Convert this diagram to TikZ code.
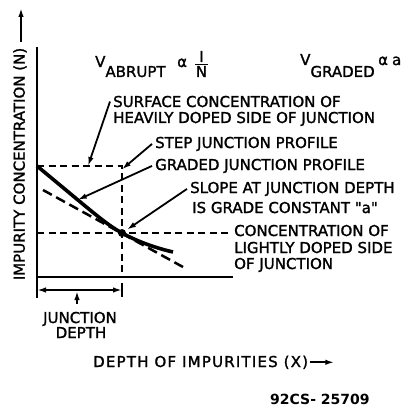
\documentclass[tikz,border=0pt]{standalone}
\usepackage{fontspec}
\setmainfont{DejaVu Sans}
\newfontfamily\lblfont{DejaVu Sans}[Ligatures=TeXOff, FakeBold=1.5]
\usetikzlibrary{arrows.meta,calc}
\begin{document}
\begin{tikzpicture}[x=1pt,y=-1pt,
 lbl/.style={inner sep=0pt, anchor=base west, font=\lblfont\fontsize{15}{18}\selectfont},
 axisline/.style={line width=2.2pt},
 guide/.style={line width=1.8pt, dash pattern=on 7pt off 4.5pt},
 tangent/.style={line width=2.5pt, dash pattern=on 10pt off 5pt},
 profile/.style={line width=3.6pt},
 pointer/.style={line width=1.8pt, -{Latex[length=9pt,width=5.5pt]}},
 dimline/.style={line width=1.8pt, {Latex[length=9pt,width=5.5pt]}-{Latex[length=9pt,width=5.5pt]}},
]
\path[fill=white, use as bounding box] (0,0) rectangle (419,406);

% key coordinates
\coordinate (top) at (37,47);
\coordinate (o) at (37,277);
\coordinate (xend) at (233,277);
\coordinate (surf) at (37,166);
\coordinate (stepc) at (122,166);
\coordinate (xj) at (122,277);
\coordinate (junc) at (122,233);
\coordinate (light) at (37,233);
\coordinate (lightend) at (232,233);

% axes
\draw[axisline] (top) -- (37,298);
\draw[axisline] (o) -- (xend);

% dashed guides
\draw[guide] (surf) -- (stepc) -- (xj);
\draw[guide] (light) -- (lightend);
\draw[tangent] ($(junc)+(-79,-43)$) -- ($(junc)+(61,34)$);

% profile
\draw[profile] (surf) .. controls (95,214) and (105,223.5) .. (junc)
  coordinate[pos=0.3] (gp);
\draw[profile] (junc) .. controls (140,243) and (160,249) .. (173,252);
\fill (junc) circle (4pt);

% top formulas
\node[lbl] (vab) at (95,67) {V\raisebox{-10pt}{ABRUPT}};
\node[lbl] (prop1) at (177,67) {α};
\node[lbl, anchor=base] (fracI) at (201.5,62) {I};
\node[lbl, anchor=base] (fracN) at (201.5,77) {N};
\draw[line width=1.6pt] (195,64.5) -- (208,64.5);
\node[lbl] (vgr) at (300,65) {V\raisebox{-12pt}{GRADED}};
\node[lbl] (prop2) at (378,65) {α\hspace{4pt}a};

% labels
\node[lbl] (surf1) at (113,107) {SURFACE CONCENTRATION OF};
\node[lbl] (surf2) at (113,123) {HEAVILY DOPED SIDE OF JUNCTION};
\node[lbl] (step) at (155,148) {STEP JUNCTION PROFILE};
\node[lbl] (graded) at (155,170) {GRADED JUNCTION PROFILE};
\node[lbl] (slope1) at (190,193) {SLOPE AT JUNCTION DEPTH};
\node[lbl] (slope2) at (192,213) {IS GRADE CONSTANT "a"};
\node[lbl] (conc1) at (234,236) {CONCENTRATION OF};
\node[lbl] (conc2) at (234,253) {LIGHTLY DOPED SIDE};
\node[lbl] (conc3) at (234,269) {OF JUNCTION};

% pointers
\draw[pointer] ([xshift=-3pt]surf1.west) -- ($(surf)!0.6!(stepc)$);
\draw[pointer] ([xshift=-3pt]step.west) -- ($(stepc)!0.03!(xj)$);
\draw[pointer] ([xshift=-3pt]graded.west) -- (gp);
\draw[pointer, shorten >=6pt] ([xshift=-3pt]slope1.west) -- (junc);

% junction depth dimension
\draw[line width=1.8pt] (122,283) -- (122,297);
\draw[dimline] (37,290) -- (122,290);
\node[lbl, anchor=base] (jd1) at (80,323) {JUNCTION};
\node[lbl, anchor=base] (jd2) at (81,338) {DEPTH};
\coordinate (jdtip) at (77,291);
\draw[pointer] (77,304) -- (jdtip);

% axis labels
\node[inner sep=0pt, rotate=90, font=\lblfont\fontsize{15}{18}\selectfont] (yl) at (20,164) {IMPURITY CONCENTRATION (N)};
\draw[pointer] ([xshift=1pt, yshift=6pt]yl.east) -- (21,8);
\node[lbl, font=\lblfont\fontsize{15}{18}\selectfont\addfontfeature{LetterSpace=8}] (xl) at (93,367) {DEPTH OF IMPURITIES (X)};
\draw[pointer] ([xshift=2pt]xl.east) -- ++(24,0);

\node[inner sep=0pt, anchor=base west, font=\fontsize{14}{16}\selectfont\bfseries] (code) at (270,404) {92CS- 25709};
\end{tikzpicture}
\end{document}
